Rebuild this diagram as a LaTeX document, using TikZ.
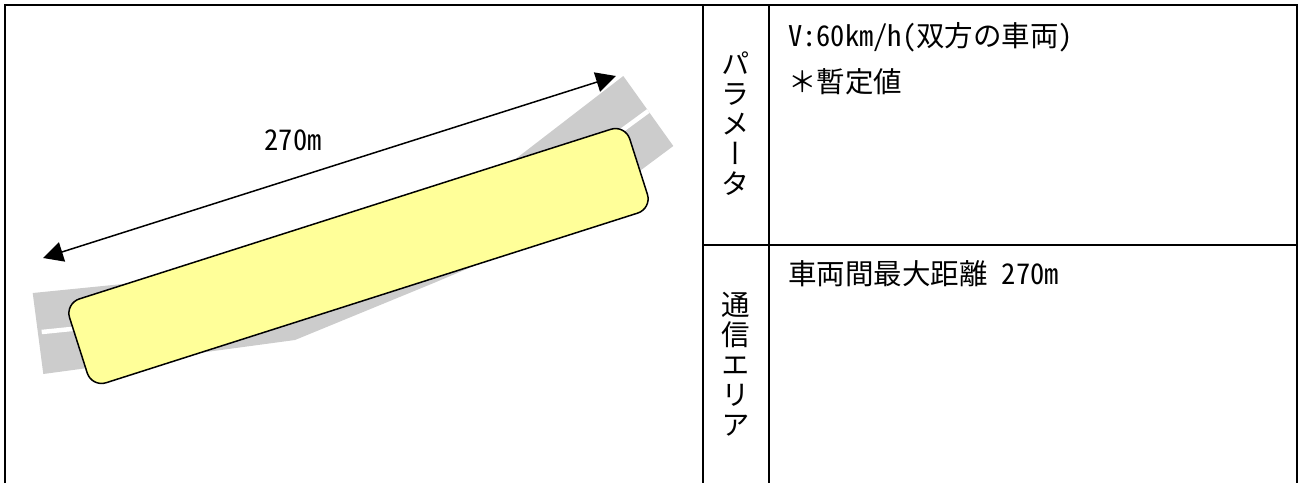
\documentclass[tikz,border=0pt]{standalone}
\usepackage{fontspec}
\newfontfamily\jp{Noto Sans CJK JP}[RawFeature=+hwid]
\newfontfamily\jpv{Noto Sans CJK JP}[RawFeature=+vert]
\newfontfamily\jpz{Noto Sans CJK JP}
\usetikzlibrary{arrows.meta}
\definecolor{roadgray}{HTML}{CCCCCC}
\definecolor{caryellow}{HTML}{FFFF99}
\begin{document}
\begin{tikzpicture}[x=1pt,y=-1pt,
  tbl/.style={line width=2pt, draw=black, line join=miter},
  road/.style={fill=roadgray},
  centreline/.style={draw=white, line width=4.5pt},
  car/.style={draw=black, line width=1.5pt, fill=caryellow, rounded corners=15pt,
    minimum width=588pt, minimum height=88pt, rotate=17.7, inner sep=0pt},
  dimarrow/.style={{Triangle[length=20pt,width=20pt]}-{Triangle[length=20pt,width=20pt]}, line width=1.5pt},
  txt/.style={font=\jp\fontsize{28.5pt}{30pt}\selectfont, inner sep=0pt},
  vlabel/.style={font=\jpv\fontsize{28.5pt}{30pt}\selectfont, align=center, inner sep=0pt}]
\useasboundingbox (0,0) rectangle (1300,483);
% table frame
\draw[tbl] (5,483) -- (5,5) -- (1297,5) -- (1297,483);
\draw[tbl] (703,5) -- (703,483);
\draw[tbl] (769,5) -- (769,483);
\draw[tbl] (703,245) -- (1297,245);
% road
\fill[road] (32.7,293) -- (387.6,257.5) -- (623.3,76) -- (673.3,146) -- (562.6,228.4)
  -- (433,283.3) -- (295,340) -- (43.3,374) -- cycle;
\draw[centreline] (41.7,332) -- (200,316) -- (520,205) -- (648.3,111);
% vehicle area
\node[car] (car) at (358.5,256) {};
% dimension arrow
\coordinate (aL) at (43,258);
\coordinate (aR) at (616,76);
\draw[dimarrow] (aL) -- (aR);
\node[txt, anchor=base] (lbl) at (293,150) {270m};
% table texts
\node[vlabel] (param) at (736,124) {パ\\ラ\\メ\\ー\\タ};
\node[vlabel] (area) at (736,364) {通\\信\\エ\\リ\\ア};
\node[txt, anchor=base west] (v) at (788,46) {V:60km/h(双方の車両)};
\node[txt, anchor=base west] (ast) at (788,92) {{\jpz ＊}暫定値};
\node[txt, anchor=base west] (dist) at (788,284) {車両間最大距離\hspace{0.5em}270m};
\end{tikzpicture}
\end{document}
